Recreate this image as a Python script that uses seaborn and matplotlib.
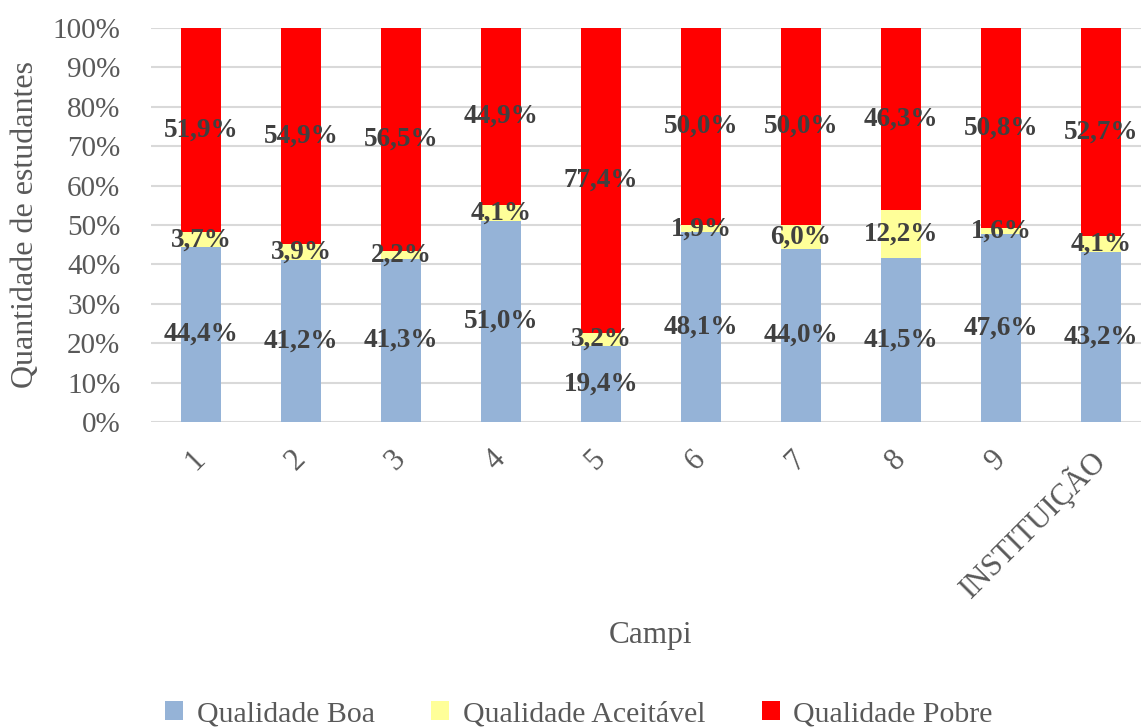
import matplotlib
matplotlib.use("Agg")
import matplotlib.pyplot as plt
import seaborn as sns
import pandas as pd
from matplotlib.patches import Patch

campi = ["1", "2", "3", "4", "5", "6", "7", "8", "9", "INSTITUIÇÃO"]
boa = [44.4, 41.2, 41.3, 51.0, 19.4, 48.1, 44.0, 41.5, 47.6, 43.2]
aceitavel = [3.7, 3.9, 2.2, 4.1, 3.2, 1.9, 6.0, 12.2, 1.6, 4.1]
pobre = [51.9, 54.9, 56.5, 44.9, 77.4, 50.0, 50.0, 46.3, 50.8, 52.7]
series_names = ["Qualidade Boa", "Qualidade Aceitável", "Qualidade Pobre"]
colors = ["#95B3D7", "#FFFF99", "#FF0000"]

sns.set_theme(style="white")
plt.rcParams["font.family"] = ["Liberation Serif", "DejaVu Serif"]

fig = plt.figure(figsize=(11.41, 7.27), dpi=100)
W, H = 1141, 727
ax = fig.add_axes([151 / W, 1 - 422 / H, (1141 - 151) / W, (422 - 28) / H])

df = pd.DataFrame({"Campi": campi, "boa": boa, "aceitavel": aceitavel, "pobre": pobre})
df["c1"] = df["boa"]
df["c2"] = df["boa"] + df["aceitavel"]
df["c3"] = df["c2"] + df["pobre"]

for col, c in zip(["c3", "c2", "c1"], colors[::-1]):
    sns.barplot(data=df, x="Campi", y=col, color=c, saturation=1, width=0.4,
                linewidth=0, ax=ax, zorder=3)

# data labels
for i, row in df.iterrows():
    segs = [(0, row["boa"]), (row["c1"], row["aceitavel"]), (row["c2"], row["pobre"])]
    for b, v in segs:
        ax.text(i, b + v / 2, f"{v:.1f}%".replace(".", ","), ha="center", va="center",
                fontsize=19.5, fontweight="bold", color="#404040", zorder=5)

ax.set_ylim(0, 100)
ax.set_xlim(-0.5, 9.4)
ax.set_yticks(range(0, 101, 10))
ax.set_yticklabels([f"{v}%" for v in range(0, 101, 10)], fontsize=21, color="#595959")
ax.set_xticks(range(len(campi)))
ax.set_xticklabels(campi, fontsize=22, color="#595959", rotation=45, ha="right",
                   va="center", rotation_mode="anchor")
ax.tick_params(axis="y", length=0, pad=22)
ax.tick_params(axis="x", length=0, pad=24)
ax.yaxis.grid(True, color="#D9D9D9", linewidth=1.5, zorder=0)
ax.set_axisbelow(True)
for s in ax.spines.values():
    s.set_visible(False)

ax.set_ylabel("")
ax.set_xlabel("")
fig.text(26 / W, 1 - 225 / H, "Quantidade de estudantes", ha="center", va="center",
         rotation=90, fontsize=23, color="#595959")
fig.text(650 / W, 1 - 635 / H, "Campi", ha="center", va="center", fontsize=22.5, color="#595959")

handles = [Patch(facecolor=c, edgecolor="none") for c in colors]
fig.legend(handles, series_names, loc="center", bbox_to_anchor=(579 / W, 1 - 714 / H),
           ncol=3, frameon=False, fontsize=21.5, handlelength=0.6, handleheight=0.6,
           handletextpad=0.45, columnspacing=1.9, labelcolor="#595959")

fig.savefig("out.png", dpi=100)
